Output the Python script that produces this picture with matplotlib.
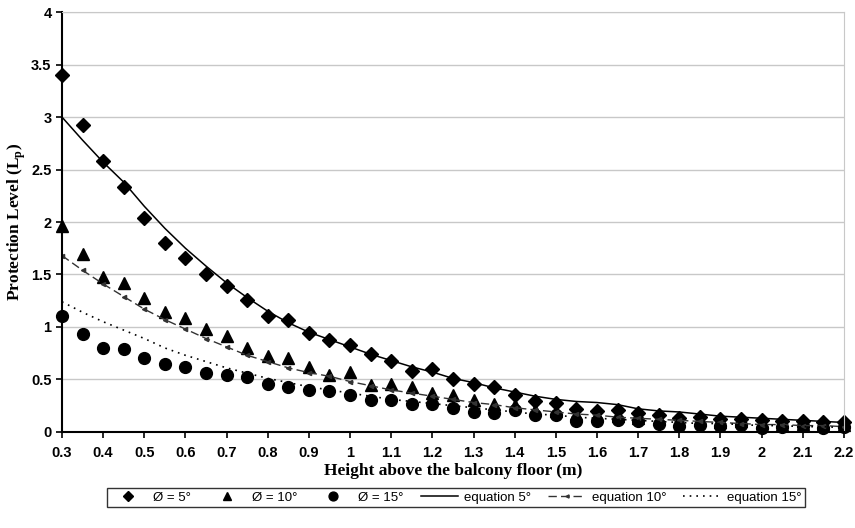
import matplotlib.pyplot as plt
import numpy as np

# heights above the balcony floor (m)
height = [0.3, 0.35, 0.4, 0.45, 0.5, 0.55, 0.6, 0.65, 0.7, 0.75,
          0.8, 0.85, 0.9, 0.95, 1.0, 1.05, 1.1, 1.15, 1.2, 1.25,
          1.3, 1.35, 1.4, 1.45, 1.5, 1.55, 1.6, 1.65, 1.7, 1.75,
          1.8, 1.85, 1.9, 1.95, 2.0, 2.05, 2.1, 2.15, 2.2]

# measured protection level
lp_5 = [3.40, 2.92, 2.58, 2.33, 2.04, 1.80, 1.66, 1.50, 1.39, 1.26,
        1.10, 1.07, 0.94, 0.88, 0.83, 0.74, 0.68, 0.58, 0.60, 0.50,
        0.46, 0.43, 0.35, 0.29, 0.28, 0.22, 0.20, 0.21, 0.18, 0.16,
        0.13, 0.14, 0.12, 0.12, 0.11, 0.10, 0.10, 0.09, 0.09]
lp_10 = [1.96, 1.70, 1.48, 1.42, 1.28, 1.14, 1.09, 0.98, 0.91, 0.80,
         0.72, 0.70, 0.62, 0.54, 0.57, 0.45, 0.46, 0.43, 0.37, 0.35,
         0.30, 0.27, 0.26, 0.21, 0.20, 0.17, 0.16, 0.15, 0.13, 0.12,
         0.10, 0.11, 0.09, 0.10, 0.09, 0.07, 0.08, 0.07, 0.07]
lp_15 = [1.10, 0.93, 0.80, 0.79, 0.70, 0.65, 0.62, 0.56, 0.54, 0.52,
         0.46, 0.43, 0.40, 0.39, 0.35, 0.30, 0.30, 0.27, 0.27, 0.23,
         0.19, 0.18, 0.21, 0.16, 0.16, 0.10, 0.10, 0.11, 0.10, 0.08,
         0.06, 0.07, 0.06, 0.07, 0.04, 0.05, 0.06, 0.04, 0.05]

# equation curves
eq_5 = [3.00, 2.78, 2.57, 2.38, 2.15, 1.94, 1.75, 1.58, 1.42, 1.28,
        1.15, 1.04, 0.95, 0.88, 0.81, 0.74, 0.68, 0.62, 0.57, 0.51,
        0.47, 0.42, 0.38, 0.34, 0.31, 0.29, 0.28, 0.26, 0.22, 0.20,
        0.19, 0.17, 0.15, 0.14, 0.13, 0.12, 0.11, 0.10, 0.09]
eq_10 = [1.68, 1.54, 1.41, 1.29, 1.17, 1.07, 0.98, 0.89, 0.81, 0.73,
         0.67, 0.61, 0.565, 0.53, 0.48, 0.44, 0.40, 0.37, 0.34, 0.31,
         0.28, 0.26, 0.23, 0.21, 0.19, 0.17, 0.16, 0.14, 0.13, 0.12,
         0.11, 0.10, 0.09, 0.08, 0.07, 0.07, 0.06, 0.06, 0.05]
eq_15 = [1.24, 1.14, 1.05, 0.97, 0.89, 0.80, 0.73, 0.67, 0.61, 0.56,
         0.51, 0.47, 0.43, 0.40, 0.37, 0.34, 0.31, 0.29, 0.27, 0.25,
         0.23, 0.21, 0.19, 0.17, 0.16, 0.14, 0.13, 0.12, 0.11, 0.10,
         0.09, 0.08, 0.08, 0.07, 0.06, 0.06, 0.05, 0.05, 0.04]

xticks = [0.3, 0.4, 0.5, 0.6, 0.7, 0.8, 0.9, 1.0, 1.1, 1.2, 1.3,
          1.4, 1.5, 1.6, 1.7, 1.8, 1.9, 2.0, 2.1, 2.2]
yticks = [0, 0.5, 1, 1.5, 2, 2.5, 3, 3.5, 4]

fig = plt.figure(figsize=(8.55, 5.28), dpi=100)
ax = fig.add_axes([0.0725, 0.182, 0.9145, 0.795])

ax.plot(height, lp_5, 'D', color='black', ms=7, clip_on=False, label='Ø = 5°')
ax.plot(height, lp_10, '^', color='black', ms=8.5, clip_on=False, label='Ø = 10°')
ax.plot(height, lp_15, 'o', color='black', ms=8.5, clip_on=False, label='Ø = 15°')
ax.plot(height, eq_5, '-', color='black', lw=1.1, label='equation 5°')
ax.plot(height, eq_10, color='#333333', lw=1.0, ls=(0, (6, 3)),
        marker='<', ms=3, label='equation 10°')
ax.plot(height, eq_15, color='black', lw=1.2, ls=(0, (1, 3)), label='equation 15°')

ax.set_xlim(0.3, 2.2)
ax.set_ylim(0, 4)
ax.set_xticks(xticks)
ax.set_xticklabels([f"{v:g}" for v in xticks])
ax.set_yticks(yticks)
ax.set_yticklabels([f"{v:g}" for v in yticks])
ax.yaxis.grid(True, color='#c8c8c8', lw=1.0)
ax.set_axisbelow(True)

for lab in ax.get_xticklabels() + ax.get_yticklabels():
    lab.set_fontfamily('Liberation Sans')
    lab.set_fontweight('bold')
    lab.set_fontsize(10.5)
ax.tick_params(axis='both', direction='out', length=4, width=1.2, color='black')
ax.tick_params(axis='x', pad=6)

ax.spines['left'].set_linewidth(1.5)
ax.spines['bottom'].set_linewidth(1.5)
ax.spines['top'].set_color('#c8c8c8')
ax.spines['right'].set_color('#c8c8c8')

ax.set_xlabel('Height above the balcony floor (m)', fontfamily='Liberation Serif',
              fontweight='bold', fontsize=12.5, labelpad=2)
ax.set_ylabel(r'Protection Level (L$_\mathregular{p}$)', fontfamily='Liberation Serif',
              fontweight='bold', fontsize=12.5, labelpad=2)

leg = fig.legend(loc='center', bbox_to_anchor=(0.533, 0.057), ncol=6,
                 frameon=True, fancybox=False, edgecolor='black',
                 prop={'family': 'Liberation Sans', 'size': 9.5},
                 handlelength=2.8, columnspacing=1.3, handletextpad=0.5,
                 borderpad=0.25, markerscale=0.75)
leg.get_frame().set_linewidth(1.0)

fig.savefig('out.png', dpi=100)
